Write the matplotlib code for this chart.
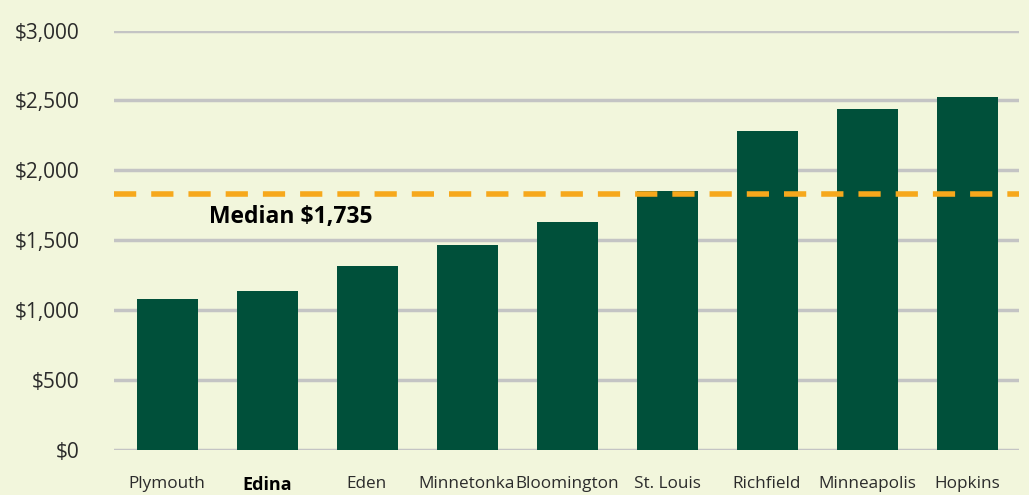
import matplotlib
matplotlib.use('Agg')
import matplotlib.pyplot as plt

# values
cities = ['Plymouth', 'Edina', 'Eden', 'Minnetonka', 'Bloomington',
          'St. Louis', 'Richfield', 'Minneapolis', 'Hopkins']
costs = [1078, 1135, 1314, 1462, 1632, 1851, 2280, 2438, 2524]
median_line = 1829
median_label = 'Median $1,735'
yticks = [0, 500, 1000, 1500, 2000, 2500, 3000]
ytick_labels = ['$0', '$500', '$1,000', '$1,500', '$2,000', '$2,500', '$3,000']

bg = '#F2F6DC'
bar_color = '#00503A'
orange = '#F6A81C'
text_color = '#2B2B2B'

plt.rcParams['font.family'] = ['Open Sans', 'DejaVu Sans']

fig = plt.figure(figsize=(10.29, 4.95), dpi=100, facecolor=bg)
ax = fig.add_axes([114 / 1029, 1 - 449.5 / 495, (1019 - 114) / 1029, 419 / 495])
ax.set_facecolor(bg)

x = range(len(cities))
ax.bar(x, costs, width=0.61, color=bar_color, zorder=3)
ax.axhline(median_line, color=orange, lw=4, dashes=(4, 2.7), zorder=4)
ax.text(0.42, median_line - 80, median_label, fontsize=16.5, fontweight='bold',
        color='black', va='top', ha='left', zorder=5)

ax.set_ylim(0, 3000)
ax.set_xlim(-0.53, 8.52)
ax.set_yticks(yticks)
ax.set_yticklabels(ytick_labels, fontsize=15, color=text_color)
ax.set_xticks(list(x))
ax.set_xticklabels(cities, fontsize=12.3, color=text_color)
for lbl in ax.get_xticklabels():
    if lbl.get_text() == 'Edina':
        lbl.set_fontweight('bold')
        lbl.set_fontsize(13)
        lbl.set_color('black')

ax.grid(axis='y', color='#C4C4C4', lw=2.5, zorder=1)
ax.tick_params(axis='both', length=0)
ax.tick_params(axis='y', pad=25)
ax.tick_params(axis='x', pad=19)
for s in ax.spines.values():
    s.set_visible(False)

fig.savefig('out.png', dpi=100, facecolor=bg)
